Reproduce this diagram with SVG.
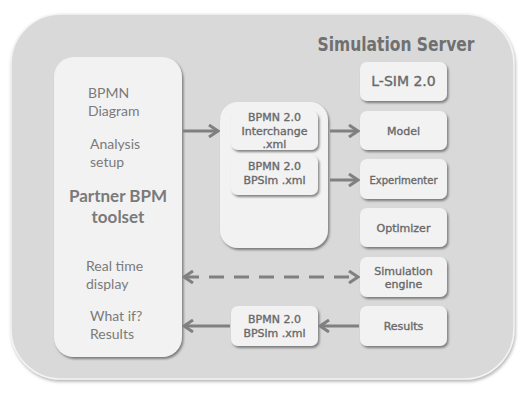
<svg xmlns="http://www.w3.org/2000/svg" width="531" height="401" viewBox="0 0 531 401">
<style>
.panel{fill:#f2f2f2;}
.box{fill:#f2f2f2;}
.cal{font-family:Lato,"Open Sans",sans-serif;font-size:14px;fill:#7a7a7a;}
.calb{font-family:Lato,"Open Sans",sans-serif;font-size:17px;font-weight:bold;fill:#7a7a7a;text-anchor:middle;}
.geo{font-family:"DejaVu Sans",sans-serif;fill:#696969;stroke:#696969;stroke-width:0.35;text-anchor:middle;}
.ttl{font-family:"DejaVu Sans Condensed","DejaVu Sans",sans-serif;font-weight:bold;fill:#707070;text-anchor:middle;}
.conn{stroke:#808080;stroke-width:3;fill:none;}
</style>
<defs>
<filter id="sh" x="-20%" y="-20%" width="150%" height="150%">
<feDropShadow dx="1.5" dy="2" stdDeviation="1" flood-color="#555" flood-opacity="0.7"/>
</filter>
<filter id="sho" x="-10%" y="-10%" width="120%" height="120%">
<feDropShadow dx="1" dy="2" stdDeviation="1.5" flood-color="#888" flood-opacity="0.6"/>
</filter>
<marker id="ah" viewBox="0 0 12 14" refX="10" refY="7" markerWidth="12" markerHeight="14" markerUnits="userSpaceOnUse" orient="auto-start-reverse">
<path d="M1,1 L10,7 L1,13" fill="none" stroke="#808080" stroke-width="3" stroke-linejoin="miter"/>
</marker>
</defs>
<rect width="531" height="401" fill="#ffffff"/>
<g id="server">
<rect x="11" y="14" width="503" height="365" rx="50" fill="#d9d9d9" stroke="#f4f4f4" stroke-width="1.5" filter="url(#sho)"/>
<text class="ttl" x="396" y="51" font-size="19" textLength="157" lengthAdjust="spacingAndGlyphs">Simulation Server</text>
</g>
<g id="partner">
<rect class="panel" x="54" y="57" width="128" height="300" rx="20" filter="url(#sh)"/>
<text class="cal" x="88" y="98">BPMN</text>
<text class="cal" x="88" y="116">Diagram</text>
<text class="cal" x="90" y="149">Analysis</text>
<text class="cal" x="90" y="167">setup</text>
<text class="calb" x="118" y="202">Partner BPM</text>
<text class="calb" x="118" y="223">toolset</text>
<text class="cal" x="86" y="271">Real time</text>
<text class="cal" x="86" y="289">display</text>
<text class="cal" x="90" y="321">What if?</text>
<text class="cal" x="90" y="339">Results</text>
</g>
<g id="files">
<rect class="panel" x="220" y="102" width="108" height="146" rx="18" filter="url(#sh)"/>
</g>
<g id="interchange">
<rect class="box" x="231" y="111" width="87" height="39" rx="7" filter="url(#sh)"/>
<text class="geo" x="274.5" y="121" font-size="11">BPMN 2.0</text>
<text class="geo" x="274.5" y="135" font-size="11">Interchange</text>
<text class="geo" x="274.5" y="148" font-size="11">.xml</text>
</g>
<g id="bpsim1">
<rect class="box" x="231" y="155" width="87" height="40" rx="7" filter="url(#sh)"/>
<text class="geo" x="274.5" y="170" font-size="11">BPMN 2.0</text>
<text class="geo" x="274.5" y="184" font-size="11">BPSim .xml</text>
</g>
<g id="bpsim2">
<rect class="box" x="231" y="306" width="87" height="40" rx="7" filter="url(#sh)"/>
<text class="geo" x="274.5" y="323" font-size="11">BPMN 2.0</text>
<text class="geo" x="274.5" y="337" font-size="11">BPSim .xml</text>
</g>
<g id="lsim">
<rect class="box" x="360" y="62" width="87" height="39" rx="7" filter="url(#sh)"/>
<text class="geo" x="403.5" y="86" font-size="14">L-SIM 2.0</text>
</g>
<g id="model">
<rect class="box" x="360" y="111" width="87" height="39" rx="7" filter="url(#sh)"/>
<text class="geo" x="403.5" y="135" font-size="11">Model</text>
</g>
<g id="experimenter">
<rect class="box" x="360" y="159" width="87" height="40" rx="7" filter="url(#sh)"/>
<text class="geo" x="403.5" y="184" font-size="10">Experimenter</text>
</g>
<g id="optimizer">
<rect class="box" x="360" y="208" width="87" height="39" rx="7" filter="url(#sh)"/>
<text class="geo" x="403.5" y="232" font-size="11">Optimizer</text>
</g>
<g id="engine">
<rect class="box" x="360" y="257" width="87" height="40" rx="7" filter="url(#sh)"/>
<text class="geo" x="403.5" y="275" font-size="11">Simulation</text>
<text class="geo" x="403.5" y="288" font-size="11">engine</text>
</g>
<g id="results">
<rect class="box" x="360" y="306" width="87" height="40" rx="7" filter="url(#sh)"/>
<text class="geo" x="403.5" y="330" font-size="11">Results</text>
</g>
<g id="connectors">
<line class="conn" x1="183" y1="131" x2="218" y2="131" marker-end="url(#ah)"/>
<line class="conn" x1="330" y1="131" x2="358" y2="131" marker-end="url(#ah)"/>
<line class="conn" x1="330" y1="180" x2="358" y2="180" marker-end="url(#ah)"/>
<line class="conn" x1="184" y1="277" x2="358" y2="277" stroke-dasharray="15 10" marker-start="url(#ah)" marker-end="url(#ah)"/>
<line class="conn" x1="359" y1="326" x2="320" y2="326" marker-end="url(#ah)"/>
<line class="conn" x1="230" y1="326" x2="184" y2="326" marker-end="url(#ah)"/>
</g>
</svg>
